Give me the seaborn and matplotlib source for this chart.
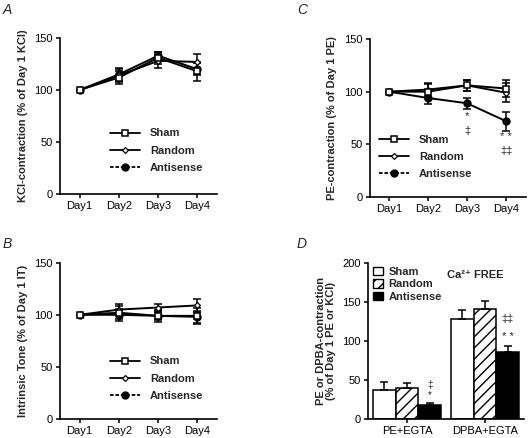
import matplotlib
matplotlib.use('Agg')
import matplotlib.pyplot as plt
import seaborn as sns
import numpy as np
import pandas as pd
from matplotlib.lines import Line2D
from matplotlib.patches import Patch

# ---------------- data ----------------
days = ['Day1', 'Day2', 'Day3', 'Day4']
groups = ['Sham', 'Random', 'Antisense']

# Panel A: KCl contraction (% of Day 1 KCl)
kcl_sham = [100, 112, 131, 118]
kcl_sham_err = [0, 6, 6, 9]
kcl_random = [100, 114, 128, 127]
kcl_random_err = [0, 6, 7, 8]
kcl_antisense = [100, 115, 133, 120]
kcl_antisense_err = [0, 6, 4, 6]

# Panel B: intrinsic tone (% of Day 1 IT)
it_sham = [100, 102, 99, 99]
it_sham_err = [0, 6, 6, 8]
it_random = [100, 105, 107, 109]
it_random_err = [0, 5, 3, 6]
it_antisense = [100, 100, 99, 98]
it_antisense_err = [0, 6, 4, 6]

# Panel C: PE contraction (% of Day 1 PE)
pe_sham = [100, 100, 106, 103]
pe_sham_err = [0, 7, 5, 8]
pe_random = [100, 102, 106, 99]
pe_random_err = [0, 6, 5, 9]
pe_antisense = [100, 94, 89, 72]
pe_antisense_err = [0, 6, 5, 9]

# Panel D: Ca2+ free bars
conditions = ['PE+EGTA', 'DPBA+EGTA']
bar_sham = [37, 128]
bar_sham_err = [10, 11]
bar_random = [40, 141]
bar_random_err = [6, 10]
bar_antisense = [18, 86]
bar_antisense_err = [3, 7]

# ---------------- style ----------------
sns.set_style('ticks')
plt.rcParams['font.family'] = ['Liberation Sans', 'DejaVu Sans']
plt.rcParams['hatch.linewidth'] = 1.0
plt.rcParams['axes.linewidth'] = 1.2

W, H = 528, 438
fig = plt.figure(figsize=(W / 100, H / 100), dpi=100)


def add_ax(l, r, t, b):
    return fig.add_axes([l / W, 1 - b / H, (r - l) / W, (b - t) / H])


axA = add_ax(60, 217, 38, 194)
axB = add_ax(60, 217, 262.7, 419)
axC = add_ax(369.5, 525.5, 39, 197)
axD = add_ax(368, 524, 262.7, 419)

styles = {
    'Sham': dict(marker='s', markersize=5, markerfacecolor='white',
                 markeredgecolor='black', markeredgewidth=1.1),
    'Random': dict(marker='D', markersize=3, markerfacecolor='white',
                   markeredgecolor='black', markeredgewidth=0.9),
    'Antisense': dict(marker='o', markersize=5, markerfacecolor='black',
                      markeredgecolor='black', markeredgewidth=1.0),
}
legend_ls = {'Sham': '-', 'Random': '-', 'Antisense': (0, (2, 1))}

label_font = dict(fontsize=8, fontweight='bold')


def style_axis(ax):
    sns.despine(ax=ax)
    ax.tick_params(axis='both', length=3, width=1.1, labelsize=8, pad=2,
                   colors='black')
    for s in ax.spines.values():
        s.set_color('black')


def line_panel(ax, series, errs, ylabel, anchor):
    x = np.arange(len(days))
    for g in ['Antisense', 'Random', 'Sham']:
        ax.errorbar(x, series[g], yerr=errs[g], fmt='none', ecolor='black',
                    elinewidth=1.1, capsize=3, capthick=1.1, zorder=2)
        sns.lineplot(x=x, y=series[g], ax=ax, color='black', linewidth=1.4,
                     errorbar=None, zorder=3, **styles[g])
    ax.set_xlim(-0.5, 3.5)
    ax.set_ylim(0, 150)
    ax.set_yticks([0, 50, 100, 150])
    ax.set_xticks(x)
    ax.set_xticklabels(days)
    ax.set_xlabel('')
    ax.set_ylabel(ylabel, labelpad=5, **label_font)
    style_axis(ax)
    handles = [Line2D([], [], color='black', linewidth=1.3,
                      linestyle=legend_ls[g], **styles[g]) for g in groups]
    ax.legend(handles, groups, loc='upper left', bbox_to_anchor=anchor,
              frameon=False, borderpad=0, borderaxespad=0, handlelength=2.7,
              handletextpad=0.9, labelspacing=0.65,
              prop=dict(size=8, weight='bold'))


line_panel(axA,
           {'Sham': kcl_sham, 'Random': kcl_random, 'Antisense': kcl_antisense},
           {'Sham': kcl_sham_err, 'Random': kcl_random_err, 'Antisense': kcl_antisense_err},
           'KCl-contraction (% of Day 1 KCl)', (0.318, 0.42))
line_panel(axB,
           {'Sham': it_sham, 'Random': it_random, 'Antisense': it_antisense},
           {'Sham': it_sham_err, 'Random': it_random_err, 'Antisense': it_antisense_err},
           'Intrinsic Tone (% of Day 1 IT)', (0.318, 0.40))
line_panel(axC,
           {'Sham': pe_sham, 'Random': pe_random, 'Antisense': pe_antisense},
           {'Sham': pe_sham_err, 'Random': pe_random_err, 'Antisense': pe_antisense_err},
           'PE-contraction (% of Day 1 PE)', (0.061, 0.395))

# significance marks in C
axC.text(2, 77, '*', ha='center', va='center', fontsize=8)
axC.text(2, 63, '\u2021', ha='center', va='center', fontsize=8)
axC.text(3, 57, '* *', ha='center', va='center', fontsize=8)
axC.text(3, 44, '\u2021\u2021', ha='center', va='center', fontsize=8)

# ---------------- panel D ----------------
df = pd.DataFrame({
    'cond': conditions * 3,
    'group': np.repeat(groups, len(conditions)),
    'val': bar_sham + bar_random + bar_antisense,
})
sns.barplot(data=df, x='cond', y='val', hue='group', hue_order=groups,
            order=conditions,
            palette={'Sham': 'white', 'Random': 'white', 'Antisense': 'black'},
            edgecolor='black', linewidth=1.1, width=0.87, errorbar=None,
            legend=False, saturation=1, ax=axD)
errs_d = [bar_sham_err, bar_random_err, bar_antisense_err]
vals_d = [bar_sham, bar_random, bar_antisense]
bar_containers = list(axD.containers)
centers = {}
for gi, cont in enumerate(bar_containers):
    for ci, bar in enumerate(cont.patches):
        cx = bar.get_x() + bar.get_width() / 2
        centers[(gi, ci)] = cx
        if groups[gi] == 'Random':
            bar.set_hatch('///')
        axD.errorbar(cx, vals_d[gi][ci], yerr=[[0], [errs_d[gi][ci]]],
                     fmt='none', ecolor='black', elinewidth=1.1, capsize=3,
                     capthick=1.1, zorder=1)
axD.set_xlim(-0.5, 1.5)
axD.set_ylim(0, 200)
axD.set_yticks([0, 50, 100, 150, 200])
axD.set_xlabel('')
axD.set_ylabel('PE or DPBA-contraction\n(% of Day 1 PE or KCl)', labelpad=5,
               linespacing=1.0, **label_font)
style_axis(axD)

axD.text(centers[(2, 0)], 44, '\u2021', ha='center', va='center', fontsize=7)
axD.text(centers[(2, 0)], 30, '*', ha='center', va='center', fontsize=7)
axD.text(centers[(2, 1)], 128, '\u2021\u2021', ha='center', va='center', fontsize=8)
axD.text(centers[(2, 1)], 105, '* *', ha='center', va='center', fontsize=8)
axD.text(0.505, 0.92, 'Ca\u00b2\u207a FREE', transform=axD.transAxes,
         ha='left', va='center', fontsize=8, fontweight='bold')

d_handles = [Patch(facecolor='white', edgecolor='black', linewidth=1.0),
             Patch(facecolor='white', edgecolor='black', linewidth=1.0, hatch='///'),
             Patch(facecolor='black', edgecolor='black', linewidth=1.0)]
axD.legend(d_handles, groups, loc='upper left', bbox_to_anchor=(0.035, 0.975),
           frameon=False, borderpad=0, borderaxespad=0, handlelength=0.85,
           handleheight=0.85, handletextpad=0.5, labelspacing=0.2,
           prop=dict(size=8, weight='bold'))

# panel letters
for letter, (px, py) in {'A': (3, 13.5), 'C': (297, 13.5),
                         'B': (3, 248), 'D': (297, 248)}.items():
    fig.text(px / W, 1 - py / H, letter, fontsize=10, fontstyle='italic',
             ha='left', va='baseline')

fig.savefig('out.png', dpi=100)
